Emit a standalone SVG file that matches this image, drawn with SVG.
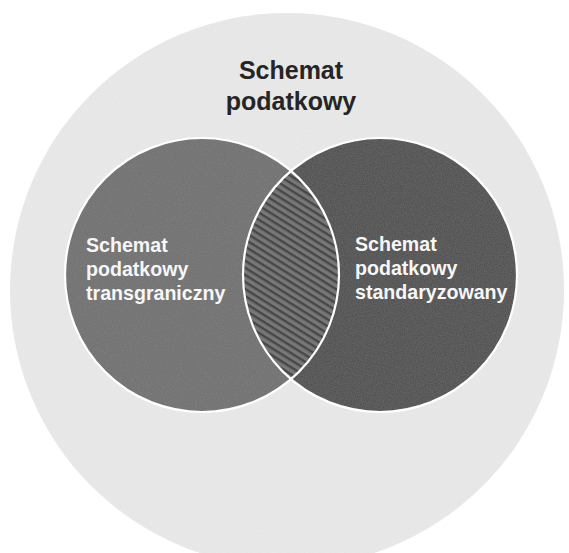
<svg xmlns="http://www.w3.org/2000/svg" width="569" height="553" viewBox="0 0 569 553">
  <style>
    .title { font-family: "Liberation Sans", Arial, sans-serif; font-weight: bold; font-size: 25px; fill: #252525; text-anchor: middle; }
    .label { font-family: "Liberation Sans", Arial, sans-serif; font-weight: bold; font-size: 19.6px; fill: #f7f7f7; }
    .ring { fill: none; stroke: #ffffff; stroke-width: 2.2; }
  </style>
  <defs>
    <pattern id="hatch" width="6" height="6" patternUnits="userSpaceOnUse" patternTransform="rotate(32)">
      <rect width="6" height="6" fill="#777777"/>
      <rect y="0" width="6" height="2.4" fill="#474747"/>
    </pattern>
    <filter id="grain" x="0" y="0" width="100%" height="100%">
      <feTurbulence type="fractalNoise" baseFrequency="0.9" numOctaves="2" seed="3" result="n"/>
      <feColorMatrix in="n" type="matrix" values="0 0 0 0 0.5  0 0 0 0 0.5  0 0 0 0 0.5  0 0 0 0.18 0" result="g"/>
      <feComposite in="g" in2="SourceGraphic" operator="in" result="gm"/>
      <feMerge><feMergeNode in="SourceGraphic"/><feMergeNode in="gm"/></feMerge>
    </filter>
  </defs>
  <rect width="569" height="553" fill="#ffffff"/>
  <g id="schemat-podatkowy">
    <circle cx="287" cy="290" r="277" fill="#ebebeb" filter="url(#grain)"/>
    <text class="title" x="291" y="79">Schemat</text>
    <text class="title" x="291" y="110">podatkowy</text>
  </g>
  <g id="schemat-transgraniczny">
    <circle cx="202" cy="275" r="137" fill="#6d6d6d" filter="url(#grain)"/>
  </g>
  <g id="schemat-standaryzowany">
    <circle cx="380" cy="275" r="137" fill="#4a4a4a" filter="url(#grain)"/>
  </g>
  <g id="czesc-wspolna">
    <path d="M291,171 A137,137 0 0 1 291,379 A137,137 0 0 1 291,171 Z" fill="url(#hatch)"/>
  </g>
  <g id="obrysy">
    <circle class="ring" cx="202" cy="275" r="137"/>
    <circle class="ring" cx="380" cy="275" r="137"/>
  </g>
  <g id="etykiety">
    <text class="label" x="86" y="252">Schemat</text>
    <text class="label" x="86" y="276">podatkowy</text>
    <text class="label" x="86" y="300">transgraniczny</text>
    <text class="label" x="355" y="251">Schemat</text>
    <text class="label" x="355" y="275">podatkowy</text>
    <text class="label" x="355" y="299">standaryzowany</text>
  </g>
  <g id="connectors"/>
</svg>
